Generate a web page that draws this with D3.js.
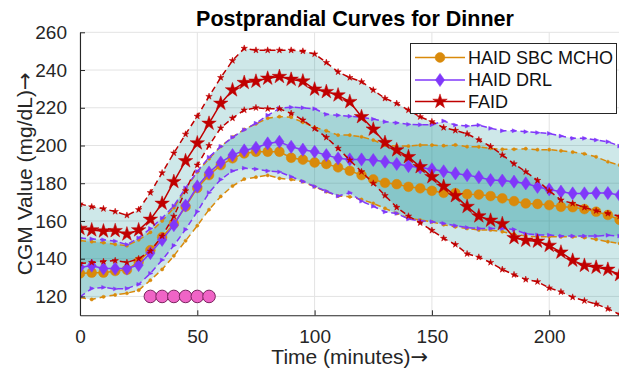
<!DOCTYPE html>
<html>
<head>
<meta charset="utf-8">
<title>Postprandial Curves for Dinner</title>
<script src="https://cdnjs.cloudflare.com/ajax/libs/d3/7.8.5/d3.min.js"></script>
<style>
  body { margin: 0; background: #fff; }
  svg { display: block; font-family: "Liberation Sans", Arial, sans-serif; }
</style>
</head>
<body>
<div id="chart"></div>
<script>
// time axis, minutes after meal (5 min CGM samples)
var time = d3.range(0, 231, 5);

// HAID SBC MCHO
var sbcMean = [132.2,132.6,132.6,133.5,134.1,138.4,144.5,151.4,158.5,167.6,177.5,184.3,189.6,193.2,195.8,196.7,196.7,196.7,193.5,192.5,191,190.2,188.4,186.6,184.3,182,180.2,179.5,178.1,177.3,176,174.9,174.8,174.2,174,173.2,172,170.5,169.3,169,168.4,167.5,167.3,166.3,164.9,163.2,160.6];
var sbcUpper = [149.6,149,148.5,147.6,146.9,150,154,160,167,177,186,193,199.5,204.5,208.5,211.5,214.5,215.3,215,212.3,209.6,207.8,205.5,205.5,204.6,202.9,200.2,199.7,199.7,200.2,200.2,199.9,200.3,199.4,199.3,198.5,198,198,198.3,197.8,197.8,197.2,196.5,195.6,194,191.4,189.6];
var sbcLower = [119.5,118.4,119.8,120.8,121.7,123.3,128.6,134.3,141.5,149.5,157.5,166,173,178.5,182.2,183.2,184.2,182.6,182,180.8,178.1,175.5,173.2,172.8,171.4,169.3,166.7,164,161.5,160.5,159.5,158,156.9,156,155.2,155.2,154.3,153,152,151.6,151.6,151.6,151.6,151.2,150.2,149,148.1];

// HAID DRL
var drlMean = [135.5,136.3,134.8,134.8,134.8,136.6,143,150,157.8,168.2,178.3,185.7,191,194.9,197.4,198.8,201.1,202,199.3,197.8,196.7,194.9,193.2,192.6,192.6,192.3,191.4,190.2,189.1,188.4,187.4,186.3,185.2,184.3,183.2,181.7,181.4,180.8,179.9,178.1,176.7,175.5,174.6,174.6,174.8,174.8,173.7];
var drlUpper = [151,150.5,150,149.3,147.5,151,156,161.5,168,177.5,186.3,193.8,199.5,204.3,208.3,211.8,216,219.7,220.3,220,219.5,216.5,216,215.5,215,214,212.6,212,211.2,211,211,213,210.8,210.3,210.8,209.1,207.8,207.8,207.3,206.8,206.4,205,203.8,203.8,202.9,202,199.7];
var drlLower = [119.8,124.2,124.8,124,124.2,126.4,132.2,139.3,147,155.5,165,175,182,186.5,188,187.5,186.5,186,183.5,181,178.3,175.8,173.2,175,170.5,167.8,164.8,164,161,160.1,159.6,158.7,157.5,156.5,156,156,156,155.5,153.2,152.6,152.5,152,152,152,152,152.4,152];

// FAID
var faidMean = [156,155.2,154.6,154.8,153,155.2,160.8,169.3,180.8,191.8,201.3,211.7,222.3,229.4,233.3,234,235.6,236.5,235,234.1,229.8,228.5,226.7,223.2,215.2,208.6,201.5,197.6,194,188.7,183.4,178.3,173.3,167.6,162.6,160.3,158.5,151.1,149.7,149.2,147,143.4,139.1,136.4,135.4,134.3,131.5];
var faidUpper = [169,167.5,166.5,165,163,166,175,185.5,196,206,215.5,226,236,245,251.5,250.5,250.5,250.5,250.5,250,248.5,244,239,236,233.8,229.4,225,222.3,218.8,215.2,212.6,209.5,208,206.2,203,199.5,195,190.3,186.1,181.5,176,171.1,169.3,167.2,165.4,164,162.5];
var faidLower = [137.5,138,138.5,139,138,140,144,152,162.5,176,189.6,200,209.3,214.5,218.8,220,219.5,219.5,217,213.5,209,204.3,198.5,192.3,186.1,180,173.5,167.2,162.6,159,155,150.8,147.5,142.6,140.8,138,134.3,131.5,129,127.8,124.5,122.4,119.6,117.7,116,113.5,110.5];

// meal / carb intake markers
var mealTimes = [30, 35, 40, 45, 50, 55];
var mealLevel = 120;

var xTicks = [0, 50, 100, 150, 200];
var yTicks = [120, 140, 160, 180, 200, 220, 240, 260];
var seriesNames = ["HAID SBC MCHO", "HAID DRL", "FAID"];

var width = 619, height = 373;
var plotLeft = 80, plotRight = 619.6, plotTop = 32.3, plotBottom = 315.3;

var svg = d3.select("#chart").append("svg")
  .attr("width", width)
  .attr("height", height);

var x = d3.scaleLinear().domain([0, 230]).range([plotLeft, plotRight]);
var y = d3.scaleLinear().domain([110, 260]).range([plotBottom, plotTop]);

svg.append("defs").append("clipPath").attr("id", "plotclip")
  .append("rect")
  .attr("x", plotLeft).attr("y", plotTop - 2)
  .attr("width", plotRight - plotLeft).attr("height", plotBottom - plotTop + 2);

// marker shapes
function starPath(r) {
  var pts = [];
  for (var i = 0; i < 10; i++) {
    var a = -Math.PI / 2 + i * Math.PI / 5;
    var rr = (i % 2) ? r * 0.382 : r;
    pts.push([rr * Math.cos(a), rr * Math.sin(a)]);
  }
  return "M" + pts.join("L") + "Z";
}
function diamondPath(w, h) {
  return "M0," + (-h) + "L" + w + ",0L0," + h + "L" + (-w) + ",0Z";
}
function arrowPath(r) {
  return "M" + r + ",0L" + (-r * 0.7) + "," + (-r * 0.75) + "L" + (-r * 0.7) + "," + (r * 0.75) + "Z";
}

// grid
var grid = svg.append("g");
grid.selectAll(".gx").data(xTicks).enter().append("line")
  .attr("x1", function(d) { return x(d); }).attr("x2", function(d) { return x(d); })
  .attr("y1", plotTop).attr("y2", plotBottom)
  .attr("stroke", "#e3e3e3").attr("stroke-width", 1);
grid.selectAll(".gy").data(yTicks).enter().append("line")
  .attr("x1", plotLeft).attr("x2", plotRight)
  .attr("y1", function(d) { return y(d); }).attr("y2", function(d) { return y(d); })
  .attr("stroke", "#e3e3e3").attr("stroke-width", 1);

var plot = svg.append("g").attr("clip-path", "url(#plotclip)");

var series = [
  { mean: sbcMean, upper: sbcUpper, lower: sbcLower, color: "#d98a0b",
    big: function(g) { g.append("circle").attr("r", 4.9); },
    small: function(g) { g.append("circle").attr("r", 1.6); } },
  { mean: drlMean, upper: drlUpper, lower: drlLower, color: "#8038fa",
    big: function(g) { g.append("path").attr("d", diamondPath(4.6, 6.6)); },
    small: function(g) { g.append("path").attr("d", arrowPath(2.6)); } },
  { mean: faidMean, upper: faidUpper, lower: faidLower, color: "#c00000",
    big: function(g) { g.append("path").attr("d", starPath(7.6)); },
    small: function(g) { g.append("path").attr("d", starPath(3.4)); } }
];

// shaded spread bands
series.forEach(function(s) {
  var area = d3.area()
    .x(function(d, i) { return x(time[i]); })
    .y0(function(d, i) { return y(s.lower[i]); })
    .y1(function(d, i) { return y(s.upper[i]); });
  plot.append("path").datum(time)
    .attr("d", area)
    .attr("fill", "#0a8a8f")
    .attr("fill-opacity", 0.2)
    .attr("stroke", "none");
});

var line = d3.line()
  .x(function(d, i) { return x(time[i]); })
  .y(function(d) { return y(d); });

function drawMarkers(g, values, color, maker) {
  values.forEach(function(v, i) {
    var m = g.append("g")
      .attr("transform", "translate(" + x(time[i]) + "," + y(v) + ")")
      .attr("fill", color).attr("stroke", color).attr("stroke-width", 0.5);
    maker(m);
  });
}

series.forEach(function(s) {
  var g = plot.append("g");
  [s.upper, s.lower].forEach(function(b) {
    g.append("path").datum(b)
      .attr("d", line)
      .attr("fill", "none")
      .attr("stroke", s.color)
      .attr("stroke-width", 1.5)
      .attr("stroke-dasharray", "6,4");
    drawMarkers(g, b, s.color, s.small);
  });
  g.append("path").datum(s.mean)
    .attr("d", line)
    .attr("fill", "none")
    .attr("stroke", s.color)
    .attr("stroke-width", 1.5);
  drawMarkers(g, s.mean, s.color, s.big);
});

// meal markers
plot.selectAll(".meal").data(mealTimes).enter().append("circle")
  .attr("cx", function(d) { return x(d); })
  .attr("cy", y(mealLevel))
  .attr("r", 6.3)
  .attr("fill", "#f064c6")
  .attr("stroke", "#7a2560")
  .attr("stroke-width", 1);

// axes
var xAxis = svg.append("g")
  .attr("transform", "translate(0," + plotBottom + ")")
  .call(d3.axisBottom(x).tickValues(xTicks).tickSizeInner(-5).tickSizeOuter(0).tickPadding(14));
var yAxis = svg.append("g")
  .attr("transform", "translate(" + plotLeft + ",0)")
  .call(d3.axisLeft(y).tickValues(yTicks).tickSizeInner(-5).tickSizeOuter(0).tickPadding(13));
[xAxis, yAxis].forEach(function(a) {
  a.select(".domain").attr("stroke", "#262626").attr("stroke-width", 1.1);
  a.selectAll(".tick line").attr("stroke", "#262626");
  a.selectAll(".tick text")
    .attr("fill", "#262626")
    .style("font-size", "19px")
    .style("font-family", "'Liberation Sans', Arial, sans-serif");
});

// legend
var lg = svg.append("g");
lg.append("rect")
  .attr("x", 410.5).attr("y", 43.5)
  .attr("width", 206).attr("height", 70)
  .attr("fill", "#fff").attr("stroke", "#262626").attr("stroke-width", 1);
var rowY = [57.5, 80, 101.5];
series.forEach(function(s, i) {
  lg.append("line")
    .attr("x1", 415).attr("x2", 465)
    .attr("y1", rowY[i]).attr("y2", rowY[i])
    .attr("stroke", s.color).attr("stroke-width", 1.5);
  var m = lg.append("g")
    .attr("transform", "translate(440," + rowY[i] + ")")
    .attr("fill", s.color).attr("stroke", s.color).attr("stroke-width", 0.5);
  s.big(m);
  lg.append("text")
    .attr("x", 468).attr("y", rowY[i])
    .attr("dy", "0.36em")
    .attr("fill", "#111")
    .style("font-size", "18px")
    .text(seriesNames[i]);
});

// title and axis labels
svg.append("text")
  .attr("x", 355).attr("y", 26)
  .attr("text-anchor", "middle")
  .style("font-size", "21.5px").style("font-weight", "bold")
  .attr("fill", "#000")
  .text("Postprandial Curves for Dinner");

var xl = svg.append("text")
  .attr("x", (plotLeft + plotRight) / 2).attr("y", 364)
  .attr("text-anchor", "middle")
  .style("font-size", "21px")
  .attr("fill", "#262626");
xl.append("tspan").text("Time (minutes)");
xl.append("tspan").style("font-family", "'DejaVu Sans', sans-serif").text("\u2192");

var yl = svg.append("text")
  .attr("transform", "translate(32," + ((plotTop + plotBottom) / 2) + ") rotate(-90)")
  .attr("text-anchor", "middle")
  .style("font-size", "21px")
  .attr("fill", "#262626");
yl.append("tspan").text("CGM Value (mg/dL)");
yl.append("tspan").style("font-family", "'DejaVu Sans', sans-serif").text("\u2192");
</script>
</body>
</html>
